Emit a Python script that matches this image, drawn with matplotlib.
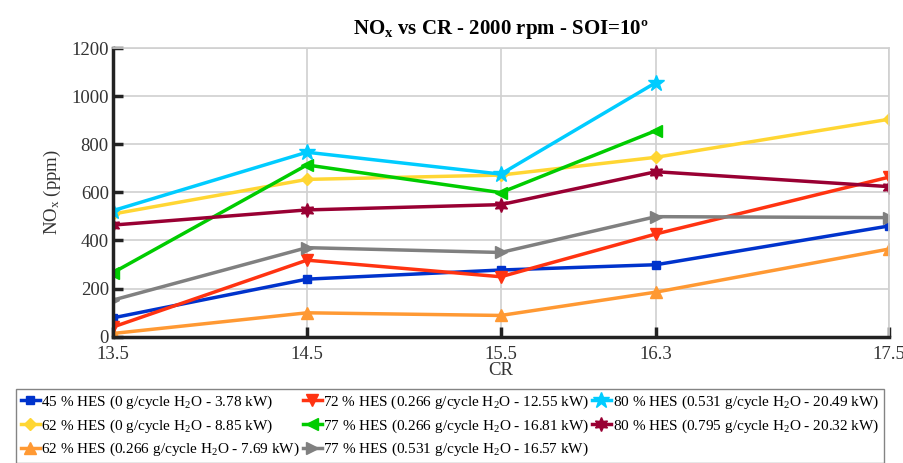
import numpy as np
import matplotlib
matplotlib.use("Agg")
import matplotlib.pyplot as plt

plt.rcParams['font.family'] = ['Liberation Serif', 'DejaVu Serif']
plt.rcParams['mathtext.fontset'] = 'custom'
plt.rcParams['mathtext.rm'] = 'Liberation Serif'
plt.rcParams['mathtext.it'] = 'Liberation Serif:italic'
plt.rcParams['mathtext.bf'] = 'Liberation Serif:bold'

# data
cr = [13.5, 14.5, 15.5, 16.3, 17.5]
cr_short = [13.5, 14.5, 15.5, 16.3]

hes45_0 = [78, 239, 277, 299, 460]
hes62_0 = [510, 654, 672, 746, 904]
hes62_266 = [13, 99, 88, 185, 364]
hes72_266 = [40, 318, 249, 427, 663]
hes77_266 = [266, 714, 599, 857]
hes77_531 = [152, 370, 350, 499, 495]
hes80_531 = [524, 767, 676, 1057]
hes80_795 = [464, 527, 549, 686, 624]

labels = [
    "45 % HES (0 g/cycle H$_\\mathrm{2}$O - 3.78 kW)",
    "62 % HES (0 g/cycle H$_\\mathrm{2}$O - 8.85 kW)",
    "62 % HES (0.266 g/cycle H$_\\mathrm{2}$O - 7.69 kW)",
    "72 % HES (0.266 g/cycle H$_\\mathrm{2}$O - 12.55 kW)",
    "77 % HES (0.266 g/cycle H$_\\mathrm{2}$O - 16.81 kW)",
    "77 % HES (0.531 g/cycle H$_\\mathrm{2}$O - 16.57 kW)",
    "80 % HES (0.531 g/cycle H$_\\mathrm{2}$O - 20.49 kW)",
    "80 % HES (0.795 g/cycle H$_\\mathrm{2}$O - 20.32 kW)",
]

series = [
    (cr, hes45_0, '#0033cc', 's', 6),
    (cr, hes62_0, '#ffd633', 'D', 6),
    (cr, hes62_266, '#ff9933', '^', 8),
    (cr, hes72_266, '#ff3311', 'v', 8),
    (cr_short, hes77_266, '#00cc00', '<', 8),
    (cr, hes77_531, '#808080', '>', 8),
    (cr_short, hes80_531, '#00ccff', '*', 12),
    (cr, hes80_795, '#990033', (6, 1, 0), 10),
]

fig = plt.figure(figsize=(9.04, 4.63), dpi=100)
ax = fig.add_axes([0.125, 0.273, 0.858, 0.623])

for (x, y, c, m, ms), lab in zip(series, labels):
    ax.plot(x, y, color=c, marker=m, markersize=ms, linewidth=2.5, label=lab)

ax.set_xlim(13.5, 17.5)
ax.set_ylim(0, 1200)
ax.set_xticks(cr)
ax.set_xticklabels(["13.5", "14.5", "15.5", "16.3", "17.5"])
ax.set_yticks(np.arange(0, 1201, 200))
ax.grid(True, color='#d0d0d0', linewidth=1.2)
ax.set_axisbelow(True)
for s in ['top', 'right']:
    ax.spines[s].set_color('#d0d0d0')
    ax.spines[s].set_linewidth(1.2)
for s in ['left', 'bottom']:
    ax.spines[s].set_color('#222222')
    ax.spines[s].set_linewidth(2.5)
ax.tick_params(direction='in', length=7, width=2.5, color='#222222',
               labelsize=13.5, labelcolor='#333333', top=False, right=False)
ax.tick_params(axis='x', pad=7)
ax.tick_params(axis='y', pad=3)

ax.set_xlabel("CR", fontsize=13.5, color='#333333', labelpad=-1)
ax.set_ylabel("NO$_\\mathrm{x}$ (ppm)", fontsize=13.5, color='#333333', labelpad=6)
ax.set_title("NO$_\\mathbf{x}$ vs CR - 2000 rpm - SOI=10º", fontsize=15,
             fontweight='bold', pad=10)

fig.legend(loc='upper left', bbox_to_anchor=(0.018, 0.16),
           ncol=3, fontsize=11, frameon=True, fancybox=False,
           edgecolor='#666666', handlelength=1.25, handletextpad=0.1,
           columnspacing=0.15, labelspacing=0.42, borderaxespad=0,
           borderpad=0.3)

fig.savefig("out.png", dpi=100)
